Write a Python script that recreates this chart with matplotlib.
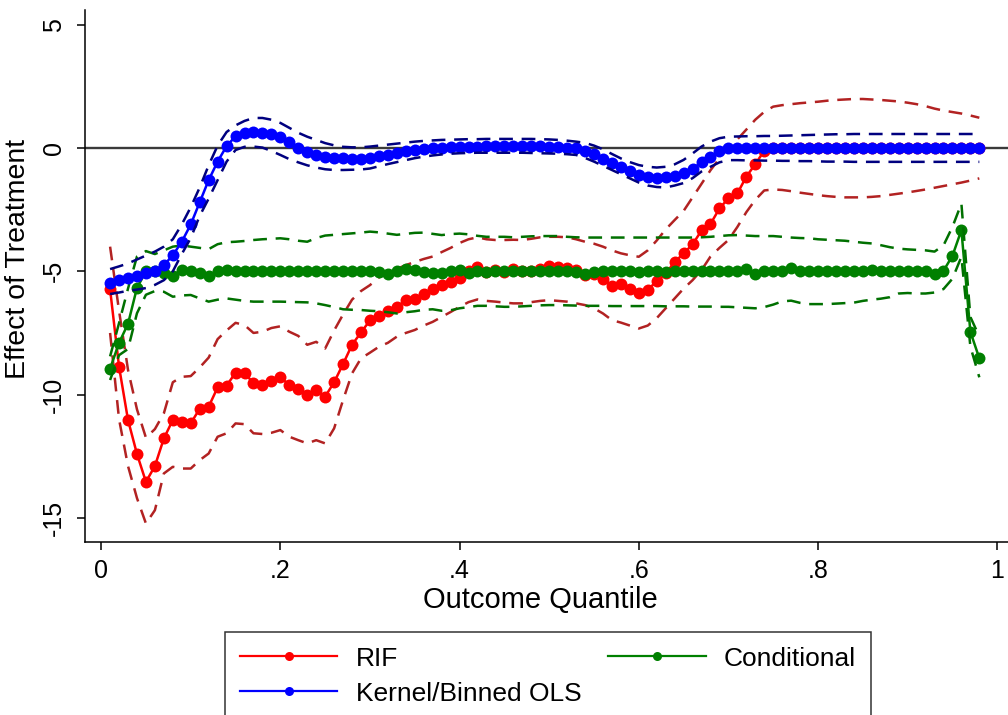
import numpy as np
import matplotlib
matplotlib.use("Agg")
import matplotlib.pyplot as plt
from matplotlib.lines import Line2D

plt.rcParams['font.family'] = ['Liberation Sans', 'DejaVu Sans']

# quantile grid .01 ... .98
quantiles = np.arange(1, 99) / 100

# RIF estimates and band
rif = [-5.73, -8.87, -11.03, -12.41, -13.54, -12.90, -11.78, -11.03, -11.10, -11.17,
       -10.57, -10.49, -9.71, -9.64, -9.11, -9.11, -9.55, -9.63, -9.45, -9.30,
       -9.61, -9.79, -10.02, -9.82, -10.08, -9.50, -8.76, -7.98, -7.48, -6.99,
       -6.83, -6.61, -6.45, -6.17, -6.13, -5.90, -5.73, -5.57, -5.44, -5.27,
       -5.00, -4.81, -5.02, -4.95, -5.02, -4.91, -5.00, -4.98, -4.91, -4.78,
       -4.84, -4.88, -4.95, -5.13, -5.12, -5.31, -5.58, -5.53, -5.70, -5.88,
       -5.75, -5.40, -5.08, -4.63, -4.27, -3.91, -3.34, -3.08, -2.45, -2.04,
       -1.84, -1.16, -0.65, -0.11, 0.0, 0.0, 0.0, 0.0, 0.0, 0.0,
       0.0, 0.0, 0.0, 0.0, 0.0, 0.0, 0.0, 0.0, 0.0, 0.0,
       0.0, 0.0, 0.0, 0.0, 0.0, 0.0, 0.0, 0.0]
rif_hi = [-4.00, -6.60, -9.00, -10.60, -11.75, -11.40, -10.76, -9.50, -9.28, -9.25,
          -8.90, -8.50, -7.75, -7.40, -7.09, -7.18, -7.50, -7.45, -7.30, -7.23,
          -7.45, -7.62, -7.98, -7.86, -8.13, -7.40, -6.75, -6.15, -5.80, -5.56,
          -5.25, -5.05, -4.90, -4.75, -4.62, -4.50, -4.40, -4.22, -4.05, -3.85,
          -3.70, -3.62, -3.70, -3.73, -3.73, -3.72, -3.73, -3.68, -3.62, -3.60,
          -3.60, -3.62, -3.70, -3.80, -3.88, -4.00, -4.15, -4.27, -4.35, -4.41,
          -4.15, -3.75, -3.30, -2.92, -2.55, -2.00, -1.45, -0.90, -0.42, 0.05,
          0.35, 0.75, 1.15, 1.47, 1.68, 1.74, 1.78, 1.82, 1.85, 1.88,
          1.92, 1.95, 1.97, 1.99, 1.99, 1.97, 1.95, 1.92, 1.89, 1.84,
          1.78, 1.70, 1.60, 1.52, 1.46, 1.40, 1.32, 1.23]
rif_lo = [-7.50, -11.00, -12.90, -14.20, -15.23, -14.69, -13.20, -12.93, -13.00, -13.00,
          -12.66, -12.39, -11.71, -11.57, -11.17, -11.20, -11.57, -11.60, -11.55, -11.44,
          -11.71, -11.85, -11.98, -11.85, -11.98, -11.37, -10.22, -9.14, -8.53, -8.30,
          -8.06, -7.90, -7.65, -7.50, -7.38, -7.20, -7.05, -6.85, -6.65, -6.44,
          -6.25, -6.14, -6.20, -6.23, -6.27, -6.30, -6.30, -6.25, -6.20, -6.17,
          -6.20, -6.23, -6.30, -6.37, -6.50, -6.71, -6.98, -7.08, -7.20, -7.32,
          -7.20, -6.90, -6.50, -6.10, -5.70, -5.36, -4.95, -4.40, -4.05, -3.73,
          -3.20, -2.60, -2.10, -1.72, -1.68, -1.70, -1.75, -1.81, -1.86, -1.91,
          -1.95, -1.98, -2.00, -2.00, -2.00, -1.98, -1.95, -1.90, -1.85, -1.80,
          -1.74, -1.68, -1.61, -1.54, -1.47, -1.40, -1.32, -1.23]

# Conditional estimates and band
cond = [-8.95, -7.90, -7.13, -5.67, -5.00, -4.98, -5.07, -5.17, -4.93, -5.00,
        -5.05, -5.17, -5.00, -4.96, -4.97, -4.97, -4.97, -4.98, -4.98, -4.97,
        -4.98, -4.98, -4.99, -4.98, -4.97, -4.98, -4.98, -4.99, -4.97, -5.00,
        -5.02, -5.10, -5.00, -4.92, -4.94, -5.02, -5.06, -5.08, -5.00, -4.93,
        -5.08, -5.00, -5.02, -4.98, -5.00, -5.00, -4.98, -4.99, -4.98, -4.99,
        -5.00, -5.00, -5.02, -5.10, -5.02, -5.00, -5.00, -5.00, -5.00, -5.01,
        -5.00, -5.00, -5.01, -5.00, -5.00, -5.00, -5.00, -5.00, -5.00, -4.99,
        -5.00, -4.91, -5.09, -5.00, -5.00, -5.00, -4.88, -5.00, -5.00, -5.00,
        -5.00, -5.00, -5.00, -5.00, -5.00, -4.95, -5.00, -5.00, -5.00, -5.00,
        -5.00, -5.00, -5.09, -4.98, -4.37, -3.33, -7.45, -8.53]
cond_hi = [-8.45, -7.10, -5.70, -4.40, -4.18, -4.30, -4.15, -4.00, -3.95, -4.00,
           -4.05, -4.10, -3.90, -3.82, -3.80, -3.77, -3.73, -3.70, -3.68, -3.66,
           -3.70, -3.76, -3.80, -3.65, -3.55, -3.52, -3.49, -3.46, -3.43, -3.39,
           -3.42, -3.47, -3.52, -3.48, -3.44, -3.43, -3.48, -3.53, -3.49, -3.47,
           -3.50, -3.56, -3.60, -3.60, -3.60, -3.62, -3.60, -3.58, -3.57, -3.57,
           -3.57, -3.60, -3.62, -3.63, -3.63, -3.63, -3.63, -3.63, -3.63, -3.63,
           -3.63, -3.63, -3.63, -3.63, -3.63, -3.63, -3.62, -3.60, -3.57, -3.54,
           -3.53, -3.55, -3.57, -3.57, -3.57, -3.60, -3.63, -3.65, -3.66, -3.70,
           -3.72, -3.74, -3.76, -3.80, -3.84, -3.87, -3.94, -4.02, -4.08, -4.11,
           -4.13, -4.15, -4.20, -3.95, -3.20, -2.25, -6.85, -7.65]
cond_lo = [-9.41, -8.40, -8.15, -6.70, -5.95, -5.80, -5.83, -6.03, -5.98, -5.96,
           -6.10, -6.23, -6.15, -6.10, -6.15, -6.20, -6.23, -6.23, -6.23, -6.23,
           -6.24, -6.25, -6.26, -6.30, -6.37, -6.45, -6.54, -6.56, -6.57, -6.60,
           -6.62, -6.66, -6.71, -6.66, -6.62, -6.56, -6.54, -6.60, -6.58, -6.50,
           -6.45, -6.40, -6.40, -6.42, -6.44, -6.44, -6.42, -6.40, -6.38, -6.37,
           -6.37, -6.38, -6.39, -6.40, -6.40, -6.40, -6.41, -6.41, -6.41, -6.41,
           -6.41, -6.41, -6.42, -6.42, -6.42, -6.43, -6.43, -6.43, -6.44, -6.44,
           -6.46, -6.48, -6.50, -6.45, -6.35, -6.22, -6.19, -6.28, -6.33, -6.33,
           -6.33, -6.31, -6.29, -6.27, -6.20, -6.15, -6.11, -6.05, -5.90, -5.88,
           -5.90, -5.90, -5.86, -5.72, -5.30, -4.41, -8.05, -9.30]

# Kernel / binned OLS estimates and band
kern = [-5.46, -5.35, -5.27, -5.18, -5.08, -4.97, -4.75, -4.35, -3.80, -3.10,
        -2.20, -1.30, -0.55, 0.08, 0.48, 0.60, 0.64, 0.63, 0.58, 0.45,
        0.23, 0.01, -0.18, -0.30, -0.38, -0.41, -0.42, -0.43, -0.43, -0.41,
        -0.34, -0.27, -0.20, -0.13, -0.07, -0.03, 0.00, 0.02, 0.04, 0.05,
        0.05, 0.06, 0.08, 0.09, 0.09, 0.09, 0.09, 0.08, 0.07, 0.06,
        0.04, 0.02, -0.01, -0.12, -0.26, -0.46, -0.62, -0.78, -0.95, -1.08,
        -1.17, -1.20, -1.19, -1.13, -1.03, -0.84, -0.58, -0.35, -0.11, -0.01,
        0.0, 0.0, 0.0, 0.0, 0.0, 0.0, 0.0, 0.0, 0.0, 0.0,
        0.0, 0.0, 0.0, 0.0, 0.0, 0.0, 0.0, 0.0, 0.0, 0.0,
        0.0, 0.0, 0.0, 0.0, 0.0, 0.0, 0.0, 0.0]
kern_hi = [-4.91, -4.80, -4.68, -4.52, -4.36, -4.20, -4.00, -3.70, -3.10, -2.40,
           -1.60, -0.70, 0.10, 0.65, 0.92, 1.10, 1.22, 1.22, 1.15, 1.02,
           0.82, 0.62, 0.46, 0.33, 0.20, 0.11, 0.05, 0.03, 0.03, 0.06,
           0.10, 0.14, 0.18, 0.22, 0.26, 0.29, 0.31, 0.33, 0.34, 0.35,
           0.36, 0.36, 0.37, 0.37, 0.37, 0.37, 0.37, 0.37, 0.36, 0.35,
           0.33, 0.30, 0.26, 0.21, 0.10, -0.05, -0.24, -0.42, -0.57, -0.69,
           -0.76, -0.79, -0.76, -0.66, -0.48, -0.22, 0.06, 0.26, 0.40, 0.46,
           0.47, 0.48, 0.48, 0.49, 0.49, 0.50, 0.51, 0.52, 0.53, 0.54,
           0.55, 0.56, 0.56, 0.57, 0.57, 0.57, 0.57, 0.57, 0.57, 0.57,
           0.57, 0.57, 0.57, 0.57, 0.57, 0.57, 0.57, 0.57]
kern_lo = [-5.92, -5.86, -5.79, -5.74, -5.68, -5.55, -5.36, -5.00, -4.30, -3.65,
           -2.75, -2.05, -1.30, -0.55, -0.08, 0.05, 0.06, 0.02, -0.12, -0.28,
           -0.45, -0.58, -0.70, -0.79, -0.86, -0.89, -0.89, -0.88, -0.87, -0.83,
           -0.74, -0.65, -0.57, -0.49, -0.41, -0.35, -0.30, -0.26, -0.23, -0.21,
           -0.20, -0.19, -0.19, -0.19, -0.19, -0.19, -0.19, -0.20, -0.21, -0.22,
           -0.23, -0.25, -0.28, -0.40, -0.55, -0.72, -0.89, -1.06, -1.23, -1.40,
           -1.52, -1.58, -1.60, -1.52, -1.42, -1.22, -0.95, -0.76, -0.58, -0.49,
           -0.49, -0.50, -0.50, -0.51, -0.51, -0.52, -0.52, -0.53, -0.53, -0.54,
           -0.55, -0.55, -0.55, -0.56, -0.56, -0.56, -0.56, -0.56, -0.56, -0.56,
           -0.56, -0.56, -0.56, -0.56, -0.56, -0.56, -0.56, -0.56]

xticks = [0, 0.2, 0.4, 0.6, 0.8, 1]
xticklabels = ['0', '.2', '.4', '.6', '.8', '1']
yticks = [-15, -10, -5, 0, 5]
yticklabels = ['-15', '-10', '-5', '0', '5']

fig = plt.figure(figsize=(10.08, 7.15), dpi=100)
ax = fig.add_axes([85 / 1008, 1 - 542 / 715, 1 - 85 / 1008, 532 / 715])

ax.axhline(0, color='#3a3a3a', lw=1.7, zorder=1)

series = [
    ('RIF', rif, rif_lo, rif_hi, '#ff0000', '#b22222'),
    ('Conditional', cond, cond_lo, cond_hi, '#008000', '#007000'),
    ('Kernel/Binned OLS', kern, kern_lo, kern_hi, '#0000ff', '#00007f'),
]
handles = {}
for i, (name, est, lo, hi, col, cicol) in enumerate(series):
    ax.plot(quantiles, est, color=col, lw=1.8, marker='o', ms=8.6,
            markeredgewidth=0, zorder=2 + 2 * i)
    ax.plot(quantiles, lo, color=cicol, lw=1.8, dashes=(5.5, 3.5), zorder=3 + 2 * i)
    ax.plot(quantiles, hi, color=cicol, lw=1.8, dashes=(5.5, 3.5), zorder=3 + 2 * i)
    handles[name] = Line2D([], [], color=col, lw=1.6, marker='o', ms=6.5,
                           markeredgewidth=0)

ax.set_xlim(-0.018, 1.012)
ax.set_ylim(-15.98, 5.6)
ax.set_xticks(xticks)
ax.set_xticklabels(xticklabels)
ax.set_yticks(yticks)
ax.set_yticklabels(yticklabels, rotation=90, va='center')

for s in ['top', 'right']:
    ax.spines[s].set_visible(False)
for s in ['left', 'bottom']:
    ax.spines[s].set_linewidth(1.1)
ax.tick_params(axis='both', direction='out', length=6, width=1.1, labelsize=18)
ax.tick_params(axis='x', pad=6)
ax.tick_params(axis='y', pad=8)

ax.set_xlabel('Outcome Quantile', fontsize=21)
ax.xaxis.set_label_coords(0.493, -0.082)
ax.set_ylabel('Effect of Treatment', fontsize=20.5)
ax.yaxis.set_label_coords(-0.058, 0.532)

order = ['RIF', 'Kernel/Binned OLS', 'Conditional']
leg = fig.legend([handles[n] for n in order], order, ncol=2, loc='upper center',
                 bbox_to_anchor=(548 / 1008, 1 - 632 / 715),
                 bbox_transform=fig.transFigure, fontsize=19, frameon=True,
                 fancybox=False, edgecolor='black', handlelength=3.7,
                 handletextpad=0.7, columnspacing=1.0, labelspacing=0.42,
                 borderpad=0.55, borderaxespad=0, numpoints=1)
leg.get_frame().set_linewidth(1.1)

fig.savefig('out.png', dpi=100)
